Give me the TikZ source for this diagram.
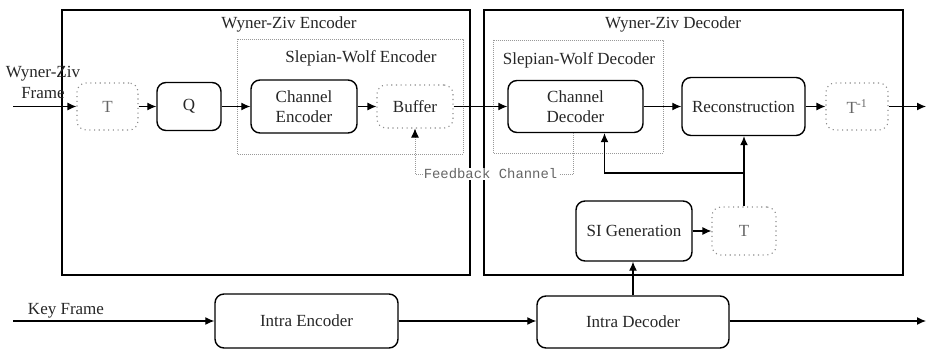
\documentclass[tikz,border=0pt]{standalone}
\usepackage{fontspec}
\setmainfont{Liberation Serif}
\newfontfamily\fbmono{Liberation Mono}
\usetikzlibrary{arrows.meta}
\begin{document}
\begin{tikzpicture}[x=1pt,y=-1pt,
  every node/.style={font=\fontsize{17}{19}\selectfont},
  frame/.style={draw, line width=1.3},
  grp/.style={draw=gray!80, line width=0.9, dash pattern=on 0.8 off 1.2},
  blk/.style={draw, line width=1.4, rounded corners=9, align=center, inner sep=0, text=black!85},
  dblk/.style={draw=gray!90, line width=1.1, dash pattern=on 1.1 off 3.6, rounded corners=9, align=center, inner sep=0, text=black!60},
  arr/.style={line width=1.2, -{Latex[length=9,width=8]}},
  fbl/.style={draw=gray!80, line width=0.9, dash pattern=on 0.8 off 1.2},
  ttl/.style={text=black!85}
]
\useasboundingbox (0,0) rectangle (927,350);
% frames
\draw[frame] (62,10) rectangle (470,275);
\draw[frame] (484,10) rectangle (903,275);
\node[ttl] (tenc) at (289,24) {Wyner-Ziv Encoder};
\node[ttl] (tdec) at (673,24) {Wyner-Ziv Decoder};
\draw[grp] (237,39) rectangle (463,154);
\draw[grp] (493,40) rectangle (663,153);
\node[ttl] (tswe) at (361,58) {Slepian-Wolf Encoder};
\node[ttl] (tswd) at (579,60) {Slepian-Wolf Decoder};
% blocks
\node[dblk, minimum width=61, minimum height=47] (T1) at (107.5,106.5) {T};
\node[blk, minimum width=64, minimum height=48] (Q) at (189,106.5) {Q};
\node[blk, minimum width=106, minimum height=53, font=\fontsize{17}{20}\selectfont] (CE) at (304,106.5) {Channel\\Encoder};
\node[dblk, minimum width=76, minimum height=43, text=black!85] (BUF) at (415,106.5) {Buffer};
\node[blk, minimum width=135, minimum height=52, font=\fontsize{17}{20}\selectfont] (CD) at (575.5,106.5) {Channel\\Decoder};
\node[blk, minimum width=123, minimum height=58] (REC) at (743.5,106.5) {Reconstruction};
\node[dblk, minimum width=62, minimum height=47] (TI) at (857,106.5) {T\textsuperscript{-1}};
\node[blk, minimum width=116, minimum height=60] (SI) at (634,231) {SI Generation};
\node[dblk, minimum width=64, minimum height=48] (T2) at (744,231) {T};
\node[blk, minimum width=183, minimum height=54] (IE) at (306.5,321) {Intra Encoder};
\node[blk, minimum width=192, minimum height=52] (ID) at (633,322) {Intra Decoder};
% labels
\node[ttl, align=center, inner sep=0, font=\fontsize{17}{21}\selectfont] (wzf) at (43,82) {Wyner-Ziv\\Frame};
\node[ttl] (kf) at (66,311) {Key Frame};
% coordinates
\coordinate (in1) at (13,106.5);
\coordinate (out1) at (926,106.5);
\coordinate (in2) at (13,321);
\coordinate (out2) at (926,321);
% main chain
\draw[arr] (in1) -- (T1.west);
\draw[arr] (T1) -- (Q);
\draw[arr] (Q) -- (CE);
\draw[arr] (CE) -- (BUF);
\draw[arr] (BUF) -- (CD);
\draw[arr] (CD) -- (REC);
\draw[arr] (REC) -- (TI);
\draw[arr] (TI) -- (out1);
% key frame chain
\draw[arr] (in2) -- (IE.west);
\draw[arr] (IE) -- (ID.west |- IE);
\draw[arr] (ID.east |- out2) -- (out2);
% SI path
\draw[arr] (ID.north) -- (ID.north |- SI.south);
\draw[arr] (SI) -- (T2);
\draw[arr] (T2.north) -- (T2.north |- REC.south);
\coordinate (br) at (744,173);
\draw[arr] (br) -| ([xshift=29]CD.south);
% feedback
\node[font=\fbmono\fontsize{13.9}{15}\selectfont, text=black!60, fill=white, inner sep=1] (fb) at (490.5,174) {Feedback Channel};
\draw[fbl] ([xshift=-2]CD.south) |- (fb.east);
\draw[fbl, -{Latex[length=9,width=8,color=black]}] (fb.west) -| (BUF.south);
\end{tikzpicture}
\end{document}
